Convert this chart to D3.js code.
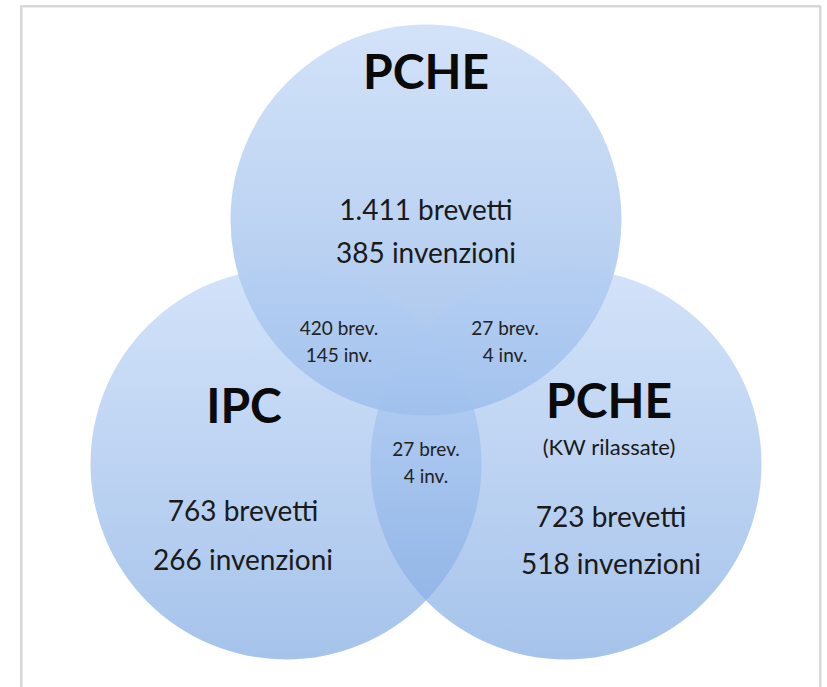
<!DOCTYPE html>
<html>
<head>
<meta charset="utf-8">
<script src="https://cdn.jsdelivr.net/npm/d3@7"></script>
<style>
  body { margin: 0; background: #fff; }
  text { font-family: Lato, "Open Sans", sans-serif; }
</style>
</head>
<body>
<div id="chart"></div>
<script>
// insiemi (cerchi)
const setNames = ["PCHE", "IPC", "PCHE"];
const setSubtitles = ["", "", "(KW rilassate)"];
const setBrevetti = [1411, 763, 723];
const setInvenzioni = [385, 266, 518];

// intersezioni a due
const pairSets = [[0, 1], [0, 2], [1, 2]];
const pairBrevetti = [420, 27, 27];
const pairInvenzioni = [145, 4, 4];

const width = 827, height = 687;

const fmt = d3.formatLocale({decimal: ",", thousands: ".", grouping: [3], currency: ["€", ""]}).format(",");

const svg = d3.select("#chart")
  .append("svg")
  .attr("width", width)
  .attr("height", height);

// cornice con leggera ombra
svg.append("rect")
  .attr("x", 22).attr("y", 7)
  .attr("width", 799).attr("height", 700)
  .attr("fill", "none")
  .attr("stroke", "#ececec")
  .attr("stroke-width", 2);
svg.append("rect")
  .attr("x", 21).attr("y", 6)
  .attr("width", 799).attr("height", 700)
  .attr("fill", "none")
  .attr("stroke", "#cfcfcf")
  .attr("stroke-width", 1.5);

// scala: unita' = raggio del cerchio
const x = d3.scaleLinear().domain([-1, 1]).range([426 - 195.5, 426 + 195.5]);
const y = d3.scaleLinear().domain([-1, 1]).range([383 - 195.5, 383 + 195.5]);
const r = x(1) - x(0);

// centri in unita' di raggio
const centers = [
  {cx: 0, cy: -0.834},
  {cx: -0.716, cy: 0.414},
  {cx: 0.716, cy: 0.414}
];

const defs = svg.append("defs");
const grad = defs.append("linearGradient")
  .attr("id", "blueGrad")
  .attr("x1", 0).attr("y1", 0).attr("x2", 0).attr("y2", 1);
grad.append("stop").attr("offset", "0%").attr("stop-color", "#b4cff5").attr("stop-opacity", 0.6);
grad.append("stop").attr("offset", "100%").attr("stop-color", "#7fa9e2").attr("stop-opacity", 0.7);

svg.selectAll("circle.set")
  .data(centers)
  .enter()
  .append("circle")
  .attr("class", "set")
  .attr("cx", d => x(d.cx))
  .attr("cy", d => y(d.cy))
  .attr("r", r)
  .attr("fill", "url(#blueGrad)");

// posizione etichette rispetto al centro (px)
const labelPos = [
  {tx: 0, ty: -131, sy: 0, bx: 0, by: 0, iy: 43},
  {tx: -42, ty: -41, sy: 0, bx: -43, by: 57, iy: 106},
  {tx: 43, ty: -46, sy: -9, bx: 45, by: 63, iy: 110}
];

const setG = svg.selectAll("g.setLabel")
  .data(setNames.map((name, i) => ({
    name, sub: setSubtitles[i], brev: setBrevetti[i], inv: setInvenzioni[i],
    c: centers[i], p: labelPos[i]
  })))
  .enter()
  .append("g")
  .attr("class", "setLabel")
  .attr("transform", d => `translate(${x(d.c.cx)}, ${y(d.c.cy)})`);

setG.append("text")
  .attr("x", d => d.p.tx).attr("y", d => d.p.ty)
  .attr("text-anchor", "middle")
  .attr("font-size", "48px")
  .attr("font-weight", "bold")
  .attr("fill", "#0a0a0a")
  .text(d => d.name);

setG.filter(d => d.sub)
  .append("text")
  .attr("x", d => d.p.tx).attr("y", d => d.p.sy)
  .attr("text-anchor", "middle")
  .attr("font-size", "22px")
  .attr("fill", "#1a1a1a")
  .text(d => d.sub);

setG.append("text")
  .attr("x", d => d.p.bx).attr("y", d => d.p.by)
  .attr("text-anchor", "middle")
  .attr("font-size", "28px")
  .attr("fill", "#1a1a1a")
  .text(d => fmt(d.brev) + " brevetti");

setG.append("text")
  .attr("x", d => d.p.bx).attr("y", d => d.p.iy)
  .attr("text-anchor", "middle")
  .attr("font-size", "28px")
  .attr("fill", "#1a1a1a")
  .text(d => fmt(d.inv) + " invenzioni");

// etichette intersezioni (offset in px dal punto medio dei centri)
const pairOffset = [
  {dx: -17, dy: 6},
  {dx: 9, dy: 6},
  {dx: 0, dy: 5}
];

const pairG = svg.selectAll("g.pairLabel")
  .data(pairSets.map((s, i) => ({
    mx: (x(centers[s[0]].cx) + x(centers[s[1]].cx)) / 2 + pairOffset[i].dx,
    my: (y(centers[s[0]].cy) + y(centers[s[1]].cy)) / 2 + pairOffset[i].dy,
    brev: pairBrevetti[i], inv: pairInvenzioni[i]
  })))
  .enter()
  .append("g")
  .attr("class", "pairLabel")
  .attr("transform", d => `translate(${d.mx}, ${d.my})`);

pairG.append("text")
  .attr("y", -13)
  .attr("text-anchor", "middle")
  .attr("font-size", "19px")
  .attr("fill", "#222")
  .text(d => fmt(d.brev) + " brev.");

pairG.append("text")
  .attr("y", 14)
  .attr("text-anchor", "middle")
  .attr("font-size", "19px")
  .attr("fill", "#222")
  .text(d => fmt(d.inv) + " inv.");
</script>
</body>
</html>
